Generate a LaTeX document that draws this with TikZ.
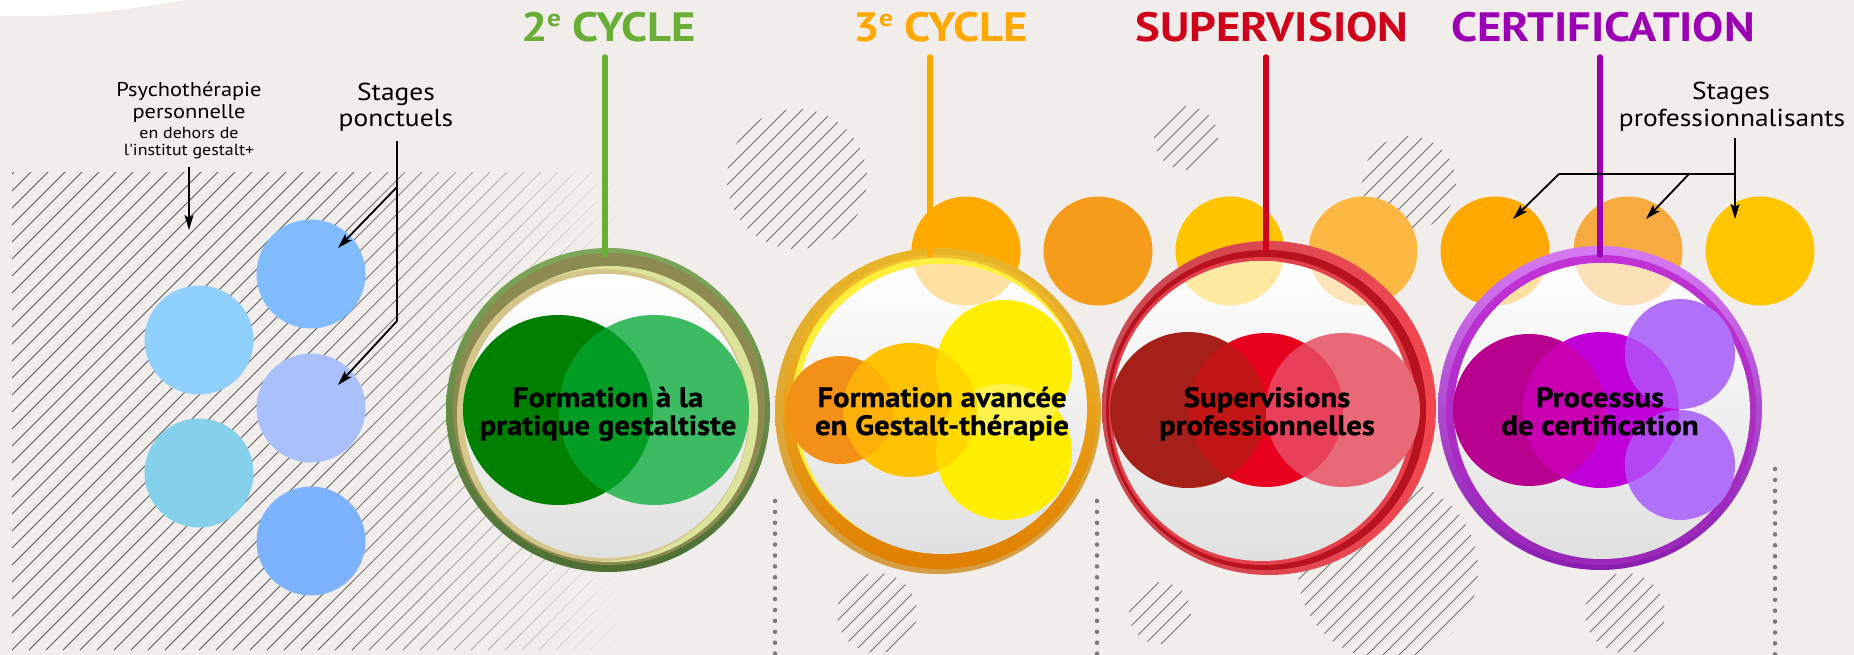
\documentclass[tikz,border=0pt]{standalone}
\usepackage{fontspec}
\setmainfont{PT Sans}
\newfontfamily\din{PT Sans}[FakeStretch=1.12]
\newfontfamily\dinh{PT Sans}[FakeStretch=1.10, FakeBold=0.8]
\newfontfamily\dint{PT Sans}[FakeStretch=1.14]
\usetikzlibrary{arrows.meta}
\definecolor{bgc}{HTML}{F0EDEA}
\definecolor{hatchc}{HTML}{5C5C5C}
\definecolor{patchc}{HTML}{707070}
\definecolor{dotc}{HTML}{7A7A7A}
\definecolor{tgreen}{HTML}{6AAF35}
\definecolor{torange}{HTML}{FFA800}
\definecolor{tred}{HTML}{D0021B}
\definecolor{tpurple}{HTML}{9B00B5}
% small circles
\definecolor{sa}{HTML}{FFAA00}
\definecolor{sb}{HTML}{F59C1A}
\definecolor{sc}{HTML}{FFC400}
\definecolor{sd}{HTML}{FBB843}
\definecolor{se}{HTML}{FFA800}
\definecolor{sf}{HTML}{F7AA40}
\definecolor{sg}{HTML}{FFC600}
% blue circles
\definecolor{ba}{HTML}{90D0FF}
\definecolor{bb}{HTML}{85D0EB}
\definecolor{bc}{HTML}{80BCFF}
\definecolor{bd}{HTML}{A9C0FA}
\definecolor{be}{HTML}{7DB2FF}
% inner circles
\definecolor{gA}{HTML}{008000}
\definecolor{gB}{HTML}{3DBB63}
\definecolor{gAB}{HTML}{009C24}
\definecolor{oA}{HTML}{F29018}
\definecolor{oB}{HTML}{FFC200}
\definecolor{oC}{HTML}{FFEE00}
\definecolor{oAB}{HTML}{FDB00A}
\definecolor{oBC}{HTML}{FFD800}
\definecolor{oCC}{HTML}{FFF24C}
\definecolor{rA}{HTML}{A6201A}
\definecolor{rB}{HTML}{E8001F}
\definecolor{rC}{HTML}{E86878}
\definecolor{rAB}{HTML}{C21515}
\definecolor{rBC}{HTML}{E8405A}
\definecolor{pA}{HTML}{B8008E}
\definecolor{pB}{HTML}{C000D8}
\definecolor{pC}{HTML}{B070F8}
\definecolor{pAB}{HTML}{C800B2}
\definecolor{pBC}{HTML}{B444F4}
% ring colours
\definecolor{g1t}{HTML}{7FA85A}
\definecolor{g1b}{HTML}{4E6E34}
\definecolor{g2}{HTML}{8C8A50}
\definecolor{g3}{HTML}{DCE49C}
\definecolor{g4}{HTML}{D5C68C}
\definecolor{o1t}{HTML}{E8B426}
\definecolor{o1b}{HTML}{D49C44}
\definecolor{o2t}{HTML}{F0C030}
\definecolor{o2b}{HTML}{E07E00}
\definecolor{o3}{HTML}{FFEE3C}
\definecolor{r1l}{HTML}{C84A52}
\definecolor{r1r}{HTML}{F24650}
\definecolor{r2}{HTML}{B8121E}
\definecolor{r3}{HTML}{E2404A}
\definecolor{p1t}{HTML}{D67AF2}
\definecolor{p1b}{HTML}{8A1CB0}
\definecolor{p2t}{HTML}{C232D6}
\definecolor{p2b}{HTML}{9A28B8}
\newcommand\hpatch[3]{%
  \begin{scope}
    \clip (#1,#2) circle[radius=#3pt];
    \foreach \k in {-9,...,9}
      \draw[patchl] ({#1+\k*16-150},{#2+150}) -- ++(300,-300);
  \end{scope}}
\newcommand\smallcircles[1]{%
  \foreach \x/\c in {966/sa,1098/sb,1230/sc,1363/sd,1495/se,1628/sf,1760/sg}
    \fill[\c!#1!white] (\x,251) circle[radius=54.5pt];}
\newcommand\whitedisk[3]{%
  \shade[top color=white, middle color=white, bottom color=black!12] (#1,#2) circle[radius=#3pt];
  \begin{scope}
    \clip (#1,#2) circle[radius=#3pt];
    \smallcircles{37}
  \end{scope}}
% two overlapping discs: (x1,y1,r1,c1) (x2,y2,r2,c2) overlap colour
\newcommand\twodisc[9]{%
  \fill[#4] (#1,#2) circle[radius=#3pt];
  \fill[#8] (#5,#6) circle[radius=#7pt];
  \begin{scope}
    \clip (#1,#2) circle[radius=#3pt];
    \fill[#9] (#5,#6) circle[radius=#7pt];
  \end{scope}}
\newcommand\supe{\kern-1pt\raisebox{15pt}{\fontsize{24}{24}\selectfont e}}
\begin{document}
\begin{tikzpicture}[x=1pt,y=-1pt,
  patchl/.style={line width=0.9pt, draw=patchc},
  conn/.style={line width=1.8pt, draw=black},
  arr/.style={conn, -{Stealth[length=15pt,width=9pt,inset=3pt]}},
  dotl/.style={line width=4.5pt, line cap=round, dash pattern=on 0pt off 10.9pt, draw=dotc},
  vline/.style={line width=5.5pt, line cap=round},
  title/.style={anchor=base, inner sep=0pt, font=\dint\bfseries\fontsize{41}{41}\selectfont},
  inner/.style={anchor=base, inner sep=0pt, font=\dinh\bfseries\fontsize{28}{28}\selectfont},
  labA/.style={anchor=base, inner sep=0pt, font=\din\fontsize{20}{20}\selectfont},
  labB/.style={anchor=base, inner sep=0pt, font=\din\fontsize{16}{16}\selectfont},
  labC/.style={anchor=base, inner sep=0pt, font=\din\fontsize{24.5}{24.5}\selectfont},
]
\useasboundingbox (0,0) rectangle (1854,655);
\fill[bgc] (0,0) rectangle (1854,655);
\fill[white] (0,0) -- (0,16) -- (30,16) .. controls (90,16) and (150,6) .. (182,0) -- cycle;

% left hatch with fading
\begin{scope}
  \clip (12,173) rectangle (330,650);
  \foreach \k in {-28,...,36}
    \draw[line width=0.9pt, draw=hatchc] ({12+17*\k},650) -- ++(480,-480);
\end{scope}
\foreach \i in {0,...,11}{
  \pgfmathsetmacro\p{92-8*\i}
  \begin{scope}
    \clip ({330+24*\i},173) rectangle ({354+24*\i},650);
    \foreach \k in {-28,...,36}
      \draw[line width=0.9pt, draw=hatchc!\p!bgc] ({12+17*\k},650) -- ++(480,-480);
  \end{scope}
}

% decorative hatch patches
\hpatch{797}{179}{70}
\hpatch{1186}{138}{32}
\hpatch{1409}{183}{47}
\hpatch{877}{613}{40}
\hpatch{1160}{613}{31}
\hpatch{1388}{570}{90}
\hpatch{1625}{613}{40}

% small orange circles
\smallcircles{100}

% ---------- green ring ----------
\shade[top color=g1t, bottom color=g1b] (608,410) circle[radius=162pt];
\fill[g2] (609,409) circle[radius=156pt];
\fill[g3] (610,414) circle[radius=148pt];
\fill[g4] (603,415) circle[radius=146pt];
\whitedisk{606}{416}{142}
\twodisc{558}{410}{95}{gA}{654}{410}{95}{gB}{gAB}
\node[inner] (g1) at (608,407) {Formation à la};
\node[inner] (g2) at (608,435) {pratique gestaltiste};

% ---------- orange ring ----------
\shade[top color=o1t, bottom color=o1b] (938,411) circle[radius=163pt];
\shade[top color=o2t, bottom color=o2b] (940,412) circle[radius=157pt];
\fill[o3] (939,405) circle[radius=147pt];
\whitedisk{942}{409}{145}
\twodisc{840}{410}{54}{oA}{910}{410}{67}{oB}{oAB}
\fill[oC] (1004,368) circle[radius=68pt];
\fill[oC] (1004,452) circle[radius=68pt];
\begin{scope}
  \clip (1004,368) circle[radius=68pt];
  \fill[oCC] (1004,452) circle[radius=68pt];
\end{scope}
\begin{scope}
  \clip (910,410) circle[radius=67pt];
  \fill[oBC] (1004,368) circle[radius=68pt];
  \fill[oBC] (1004,452) circle[radius=68pt];
\end{scope}
\node[inner] (o1) at (942,407) {Formation avancée};
\node[inner] (o2) at (942,435) {en Gestalt-thérapie};

% ---------- red ring ----------
\shade[left color=r1l, right color=r1r] (1269,408) circle[radius=167pt];
\fill[r2] (1266,410) circle[radius=160pt];
\fill[r3] (1263,411) circle[radius=154pt];
\whitedisk{1262}{411}{150}
\twodisc{1188}{410}{78}{rA}{1266}{410}{77}{rB}{rAB}
\fill[rC] (1343,410) circle[radius=77pt];
\begin{scope}
  \clip (1266,410) circle[radius=77pt];
  \fill[rBC] (1343,410) circle[radius=77pt];
\end{scope}
\node[inner] (r1) at (1267,407) {Supervisions};
\node[inner] (r2) at (1267,435) {professionnelles};

% ---------- purple ring ----------
\shade[top color=p1t, bottom color=p1b] (1600,408) circle[radius=162pt];
\shade[top color=p2t, bottom color=p2b] (1601,410) circle[radius=155pt];
\whitedisk{1602}{411}{148}
\twodisc{1529}{410}{76}{pA}{1601}{410}{78}{pB}{pAB}
\fill[pC] (1680,354) circle[radius=55pt];
\fill[pC] (1680,465) circle[radius=55pt];
\begin{scope}
  \clip (1601,410) circle[radius=78pt];
  \fill[pBC] (1680,354) circle[radius=55pt];
  \fill[pBC] (1680,465) circle[radius=55pt];
\end{scope}
\node[inner] (p1) at (1600,407) {Processus};
\node[inner] (p2) at (1600,435) {de certification};

% ---------- titles and vertical lines ----------
\node[title, text=tgreen] (t2) at (609,42) {2\supe{} CYCLE};
\node[title, text=torange] (t3) at (941,42) {3\supe{} CYCLE};
\node[title, text=tred] (ts) at (1272,42) {SUPERVISION};
\node[title, text=tpurple] (tc) at (1603,42) {CERTIFICATION};
\coordinate (lg1) at (605,57);  \coordinate (lg2) at (605,255);
\coordinate (lo1) at (930,57);  \coordinate (lo2) at (930,255);
\coordinate (lr1) at (1266,57); \coordinate (lr2) at (1266,250);
\coordinate (lp1) at (1600,57); \coordinate (lp2) at (1600,255);
\draw[vline, draw=tgreen] (lg1) -- (lg2);
\draw[vline, draw=torange] (lo1) -- (lo2);
\draw[vline, draw=tred] (lr1) -- (lr2);
\draw[vline, draw=tpurple] (lp1) -- (lp2);

% ---------- blue circles ----------
\fill[ba] (199,340) circle[radius=54.5pt];
\fill[bb] (199,473) circle[radius=54.5pt];
\fill[bc] (311,274) circle[radius=54.5pt];
\fill[bd] (311,408) circle[radius=54.5pt];
\fill[be] (311,541) circle[radius=54.5pt];

% ---------- left labels ----------
\node[labA] (ps1) at (189,97) {Psychothérapie};
\node[labA] (ps2) at (189,119) {personnelle};
\node[labB] (ps3) at (189,139) {en dehors de};
\node[labB] (ps4) at (189,156) {l'institut gestalt+};
\node[labC] (sp1) at (396,101) {Stages};
\node[labC] (sp2) at (396,127) {ponctuels};
\node[labC] (sq1) at (1731,100) {Stages};
\node[labC] (sq2) at (1732,127) {professionnalisants};

% ---------- connectors ----------
\coordinate (a1) at (189,167); \coordinate (a2) at (189,230);
\draw[arr] (a1) -- (a2);
\coordinate (b1) at (397,141); \coordinate (b2) at (397,187);
\coordinate (b3) at (397,321); \coordinate (bt1) at (338,248);
\coordinate (bt2) at (338,385);
\draw[conn] (b1) -- (b3);
\draw[arr] (b2) -- (bt1);
\draw[arr, line join=miter] (b3) -- (bt2);
\coordinate (c1) at (1735,138); \coordinate (c2) at (1735,219);
\coordinate (c3) at (1559,174); \coordinate (c4) at (1689,174);
\coordinate (c5) at (1735,174);
\coordinate (ct1) at (1513,219); \coordinate (ct2) at (1646,219);
\draw[arr] (c1) -- (c2);
\draw[conn] (c3) -- (c5);
\draw[arr] (c3) -- (ct1);
\draw[arr] (c4) -- (ct2);

% ---------- dotted lines ----------
\coordinate (d1a) at (775,501);  \coordinate (d1b) at (775,655);
\coordinate (d2a) at (1097,501); \coordinate (d2b) at (1097,655);
\coordinate (d3a) at (1775,469); \coordinate (d3b) at (1775,655);
\draw[dotl] (d1a) -- (d1b);
\draw[dotl] (d2a) -- (d2b);
\draw[dotl] (d3a) -- (d3b);
\end{tikzpicture}
\end{document}
